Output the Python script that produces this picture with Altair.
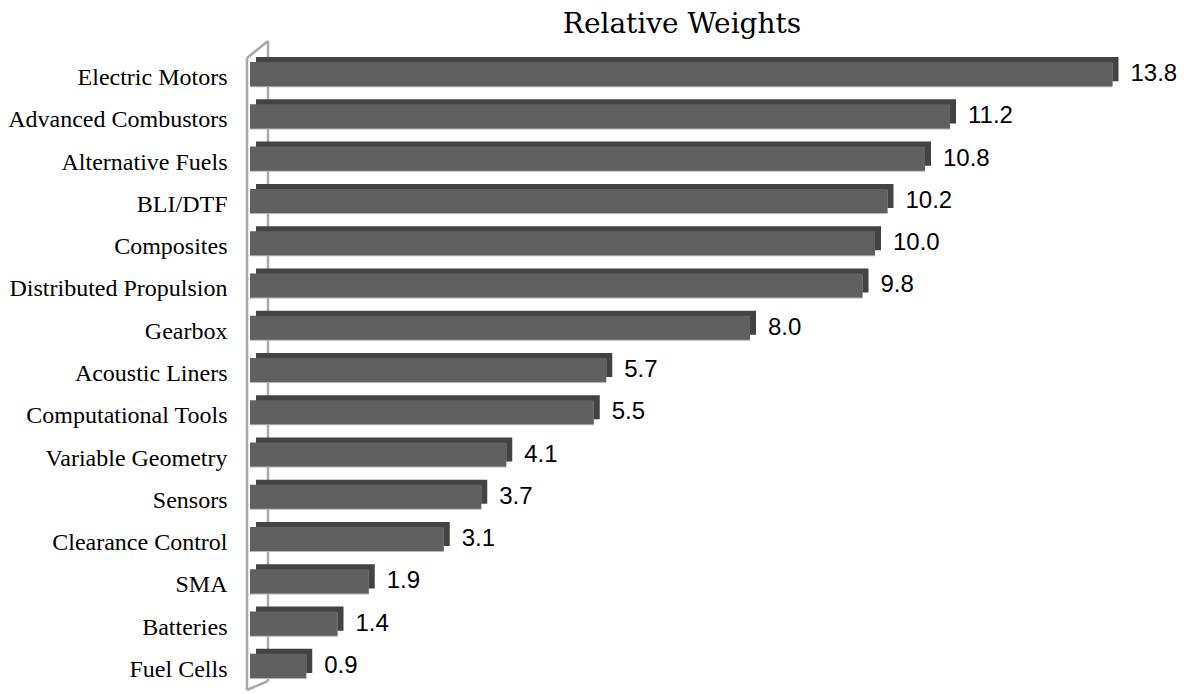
import altair as alt
import pandas as pd

categories = ["Electric Motors", "Advanced Combustors", "Alternative Fuels", "BLI/DTF",
              "Composites", "Distributed Propulsion", "Gearbox", "Acoustic Liners",
              "Computational Tools", "Variable Geometry", "Sensors", "Clearance Control",
              "SMA", "Batteries", "Fuel Cells"]
values = [13.8, 11.2, 10.8, 10.2, 10.0, 9.8, 8.0, 5.7, 5.5, 4.1, 3.7, 3.1, 1.9, 1.4, 0.9]

df = pd.DataFrame({"cat": categories, "val": values,
                   "label": [f"{v:.1f}" for v in values]})

W, H = 920, 634
yscale = alt.Scale(domain=categories, paddingInner=0.43, paddingOuter=0.215)
xscale = alt.Scale(domain=[0, 14.72], nice=False, zero=True)

base = alt.Chart(df).encode(
    y=alt.Y("cat:N", sort=categories, scale=yscale,
            axis=alt.Axis(title=None, domain=False, ticks=False, labelFont="Liberation Serif",
                          labelFontSize=24, labelColor="#000000", labelPadding=23,
                          labelOffset=4, labelLimit=300)),
)

back = base.mark_bar(color="#434343", xOffset=6, yOffset=-5).encode(
    x=alt.X("val:Q", scale=xscale, axis=None))
edge = base.mark_bar(color="#b5b5b5", yOffset=1).encode(
    x=alt.X("val:Q", scale=xscale, axis=None))
front = base.mark_bar(color="#606060").encode(
    x=alt.X("val:Q", scale=xscale, axis=None))
text = base.mark_text(align="left", baseline="middle", dx=18, font="Liberation Sans",
                      fontSize=24, color="#000000").encode(
    x=alt.X("val:Q", scale=xscale, axis=None), text="label:N")

wall_col = "#a8a8a8"
wall = alt.Chart(pd.DataFrame({"k": [0]}))
front_line = wall.mark_rule(color=wall_col, strokeWidth=2.5).encode(
    x=alt.value(-3), y=alt.value(5), y2=alt.value(H + 3))
back_line = wall.mark_rule(color=wall_col, strokeWidth=2.5).encode(
    x=alt.value(18), y=alt.value(-12), y2=alt.value(H - 6))
top_diag = wall.mark_rule(color=wall_col, strokeWidth=2.5).encode(
    x=alt.value(-3), x2=alt.value(18), y=alt.value(5), y2=alt.value(-12))
bot_diag = wall.mark_rule(color=wall_col, strokeWidth=2.5).encode(
    x=alt.value(-3), x2=alt.value(18), y=alt.value(H + 3), y2=alt.value(H - 6))

chart = alt.layer(back_line, top_diag, bot_diag, front_line, back, edge, front, text).properties(
    width=W, height=H,
    autosize=alt.AutoSizeParams(type="none"),
    padding={"left": 242, "top": 45, "right": 9, "bottom": 7},
    title=alt.TitleParams("Relative Weights", font="DejaVu Serif", fontSize=28,
                          fontWeight="normal", color="#000000", anchor="middle",
                          dx=-28, offset=1),
).configure_view(stroke=None)

chart.save("out.html", embed_options={"renderer": "svg", "actions": False})
